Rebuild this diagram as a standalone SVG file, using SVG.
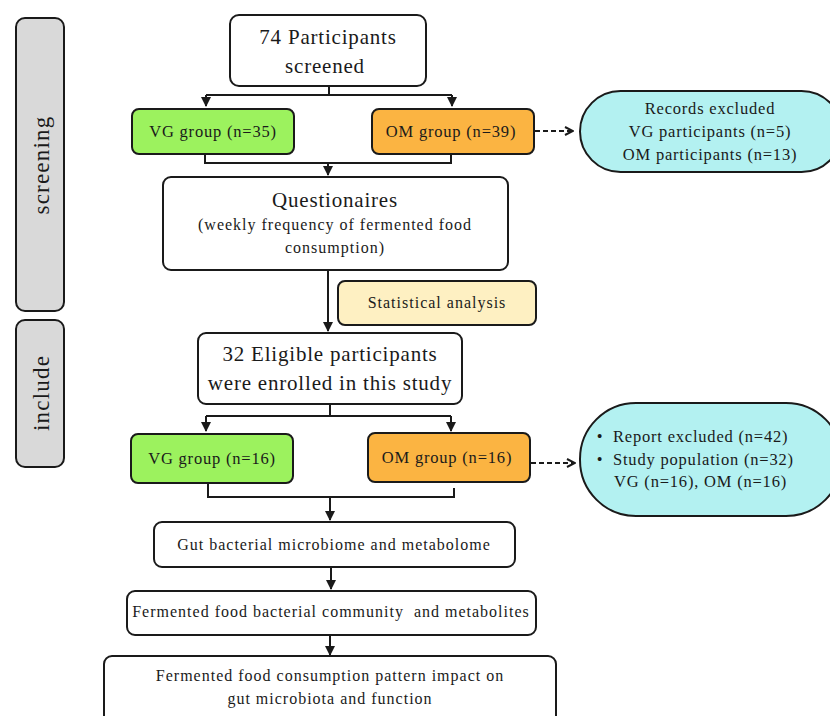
<svg xmlns="http://www.w3.org/2000/svg" width="830" height="716" viewBox="0 0 830 716">
<defs>
<style>
.box{stroke:#1a1a1a;stroke-width:2;}
.w{fill:#ffffff;}
.side{fill:#d9d9d9;}
.vg{fill:#9cf25e;}
.om{fill:#fbb442;}
.cap{fill:#b3f1f1;}
.stat{fill:#fef0c2;}
text{font-family:"Liberation Serif","Times New Roman",serif;fill:#1a1a1a;text-anchor:middle;}
.t20{font-size:21px;letter-spacing:0.8px;}
.tside{font-size:23px;letter-spacing:1.2px;}
.t16{font-size:16.5px;letter-spacing:0.8px;}
.t15{font-size:16px;letter-spacing:1px;}
.conn{fill:none;stroke:#1a1a1a;stroke-width:2;}
.dash{fill:none;stroke:#1a1a1a;stroke-width:2;stroke-dasharray:5,3;}
</style>
<marker id="arr" viewBox="0 0 10 10" refX="9" refY="5" markerWidth="5" markerHeight="5" orient="auto" markerUnits="strokeWidth">
<path d="M0,0 L10,5 L0,10 z" fill="#1a1a1a"/>
</marker>
<marker id="arro" viewBox="0 0 10 10" refX="9" refY="5" markerWidth="5" markerHeight="5" orient="auto" markerUnits="strokeWidth">
<path d="M1,1 L9,5 L1,9" fill="none" stroke="#1a1a1a" stroke-width="2"/>
</marker>
</defs>
<rect width="830" height="716" fill="#ffffff"/>

<g id="side-screening">
<rect class="box side" x="16" y="18" width="48" height="293" rx="9"/>
<text class="tside" transform="translate(49,165) rotate(-90)">screening</text>
</g>
<g id="side-include">
<rect class="box side" x="16" y="320" width="48" height="147" rx="9"/>
<text class="tside" transform="translate(49,393) rotate(-90)">include</text>
</g>

<g id="connectors">
<path class="conn" d="M329,86 V95 M206,95 H452"/>
<path class="conn" d="M206,95 V106" marker-end="url(#arr)"/>
<path class="conn" d="M452,95 V106" marker-end="url(#arr)"/>
<path class="conn" d="M205,154 V163 H451 V154"/>
<path class="conn" d="M328,163 V175" marker-end="url(#arr)"/>
<path class="conn" d="M328,270 V331" marker-end="url(#arr)"/>
<path class="conn" d="M330,404 V416 M206,416 H451"/>
<path class="conn" d="M206,416 V431" marker-end="url(#arr)"/>
<path class="conn" d="M451,416 V431" marker-end="url(#arr)"/>
<path class="conn" d="M208,483 V497 H454 V488"/>
<path class="conn" d="M330,497 V520" marker-end="url(#arr)"/>
<path class="conn" d="M331,567 V589" marker-end="url(#arr)"/>
<path class="conn" d="M330,635 V655" marker-end="url(#arr)"/>
<path class="dash" d="M535,131 H573" marker-end="url(#arro)"/>
<path class="dash" d="M531,463 H575" marker-end="url(#arro)"/>
</g>

<g id="n-screened">
<rect class="box w" x="230" y="15" width="196" height="71" rx="9"/>
<text class="t20" x="328" y="44">74 Participants</text>
<text class="t20" x="325" y="73">screened</text>
</g>
<g id="n-vg35">
<rect class="box vg" x="132" y="109" width="162" height="45" rx="7"/>
<text class="t16" x="213" y="137">VG group (n=35)</text>
</g>
<g id="n-om39">
<rect class="box om" x="372" y="109" width="162" height="45" rx="7"/>
<text class="t16" x="451" y="137">OM group (n=39)</text>
</g>
<g id="n-excl1">
<rect class="box cap" x="580" y="91" width="262" height="81" rx="40.5"/>
<text class="t16" x="710" y="114">Records excluded</text>
<text class="t16" x="710" y="137">VG participants (n=5)</text>
<text class="t16" x="710" y="160">OM participants (n=13)</text>
</g>
<g id="n-quest">
<rect class="box w" x="163" y="177" width="345" height="93" rx="8"/>
<text class="t20" x="335" y="207">Questionaires</text>
<text class="t15" x="335" y="230">(weekly frequency of fermented food</text>
<text class="t15" x="335" y="253">consumption)</text>
</g>
<g id="n-stat">
<rect class="box stat" x="338" y="281" width="198" height="44" rx="7"/>
<text class="t15" x="437" y="308">Statistical analysis</text>
</g>
<g id="n-eligible">
<rect class="box w" x="198" y="333" width="264" height="71" rx="8"/>
<text class="t20" x="330" y="361">32 Eligible participants</text>
<text class="t20" x="330" y="390">were enrolled in this study</text>
</g>
<g id="n-vg16">
<rect class="box vg" x="131" y="434" width="162" height="49" rx="7"/>
<text class="t16" x="212" y="464">VG group (n=16)</text>
</g>
<g id="n-om16">
<rect class="box om" x="368" y="433" width="162" height="49" rx="7"/>
<text class="t16" x="447" y="463">OM group (n=16)</text>
</g>
<g id="n-excl2">
<rect class="box cap" x="580" y="403" width="262" height="113" rx="56"/>
<text class="t16" x="600" y="442">•</text>
<text class="t16" x="600" y="465">•</text>
<text class="t16" x="613" y="442" style="text-anchor:start">Report excluded (n=42)</text>
<text class="t16" x="613" y="465" style="text-anchor:start">Study population (n=32)</text>
<text class="t16" x="614" y="487" style="text-anchor:start">VG (n=16), OM (n=16)</text>
</g>
<g id="n-gut">
<rect class="box w" x="154" y="522" width="361" height="45" rx="8"/>
<text class="t15" x="334" y="550">Gut bacterial microbiome and metabolome</text>
</g>
<g id="n-ferm">
<rect class="box w" x="127" y="591" width="409" height="44" rx="8"/>
<text class="t15" x="331" y="617">Fermented food bacterial community&#160; and metabolites</text>
</g>
<g id="n-impact">
<rect class="box w" x="104" y="656" width="452" height="80" rx="8"/>
<text class="t15" x="330" y="681">Fermented food consumption pattern impact on</text>
<text class="t15" x="330" y="704">gut microbiota and function</text>
</g>
</svg>
